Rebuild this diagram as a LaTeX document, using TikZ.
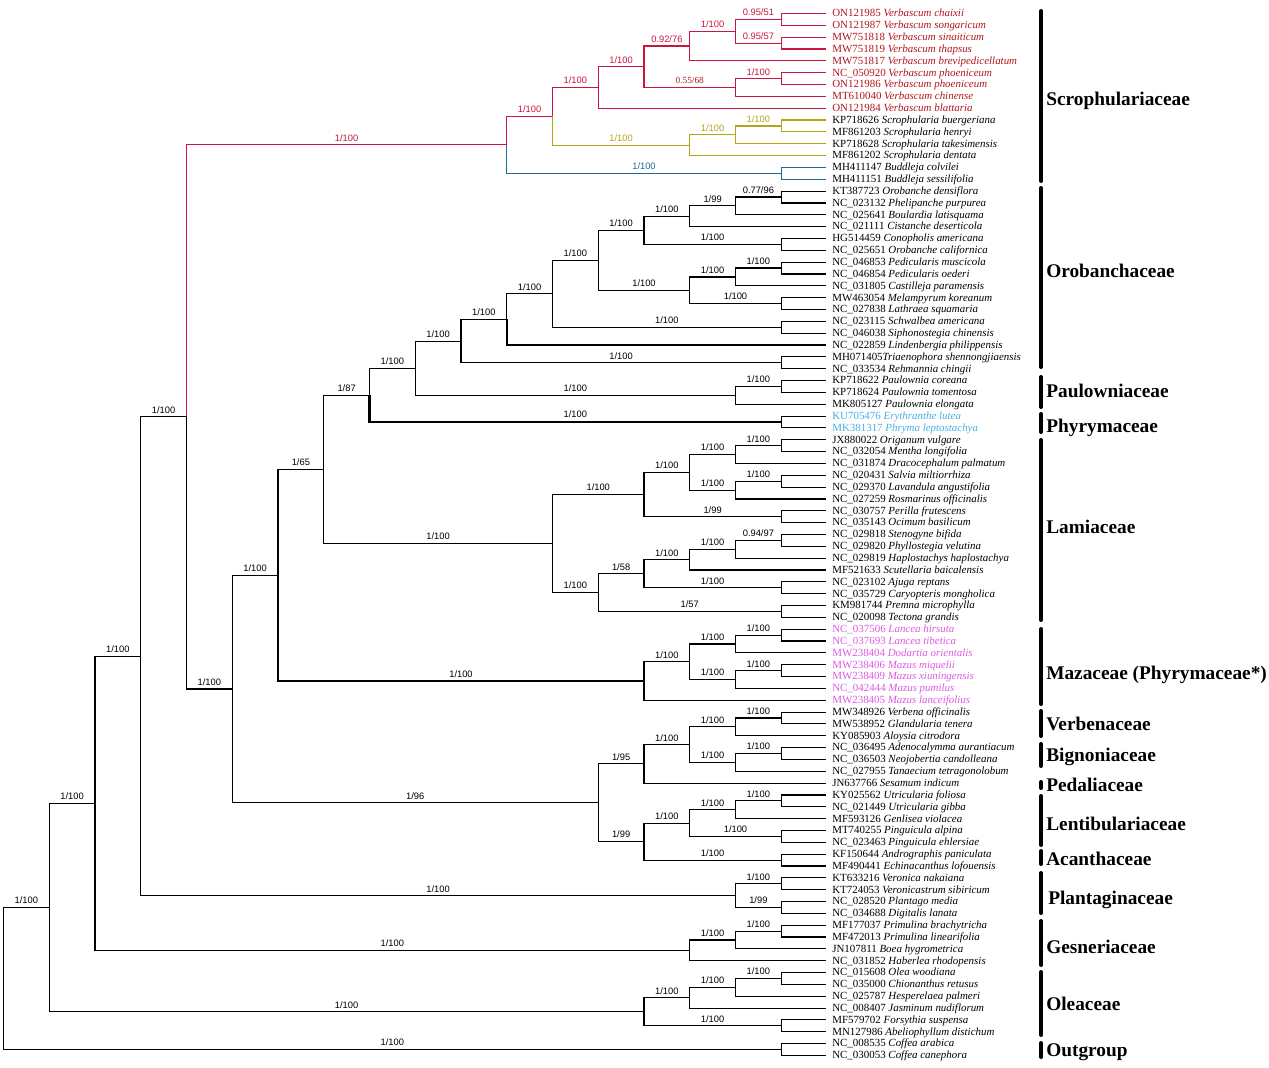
\documentclass[tikz,border=0pt]{standalone}
\usepackage{fontspec}
\setmainfont{Liberation Serif}
\newfontfamily\supf{Liberation Sans}
\usetikzlibrary{calc}
\definecolor{vred}{RGB}{200,22,62}
\definecolor{vtxt}{RGB}{175,22,28}
\definecolor{olv}{RGB}{180,165,20}
\definecolor{bud}{RGB}{30,105,150}
\definecolor{phr}{RGB}{70,175,225}
\definecolor{maz}{RGB}{220,90,225}
\newcommand\lf[4]{\node[leaf,text=#2] (L#1) at (826,{13.5+(#1-1)*11.84}) {#3 \textit{#4}};}
\newcommand\mkcl[4]{\path let \p1=(#3), \p2=(#4) in coordinate (#1) at ({(3.5+45.75*#2)*0.75pt},{0.5*(\y1+\y2)});}
\newcommand\brn[4][]{\draw[tb,#1] (#2) |- (#3) node[sup] {#4};}
\newcommand\brl[3][]{\draw[tb,#1] (#2) |- (#3);}
\begin{document}
\begin{tikzpicture}[x=0.75pt,y=-0.75pt,
 tb/.style={line width=0.85pt},
 thk/.style={line width=1.6pt},
 sup/.style={pos=0.75,above=1.6pt,inner sep=0.6pt,font=\supf\fontsize{7}{8}\selectfont},
 leaf/.style={anchor=west,inner xsep=4.5pt,inner ysep=0pt,text height=1.55ex,text depth=0.45ex,font=\fontsize{8.2}{9}\selectfont},
 fam/.style={anchor=base west,inner sep=0pt,font=\bfseries\fontsize{14.5}{16}\selectfont},
 fbar/.style={line width=3pt,line cap=round}]
\useasboundingbox (0,0) rectangle (1269,1067);
% ---------------- leaves
\lf{1}{vtxt}{ON121985}{Verbascum chaixii}
\lf{2}{vtxt}{ON121987}{Verbascum songaricum}
\lf{3}{vtxt}{MW751818}{Verbascum sinaiticum}
\lf{4}{vtxt}{MW751819}{Verbascum thapsus}
\lf{5}{vtxt}{MW751817}{Verbascum brevipedicellatum}
\lf{6}{vtxt}{NC\_050920}{Verbascum phoeniceum}
\lf{7}{vtxt}{ON121986}{Verbascum phoeniceum}
\lf{8}{vtxt}{MT610040}{Verbascum chinense}
\lf{9}{vtxt}{ON121984}{Verbascum blattaria}
\lf{10}{black}{KP718626}{Scrophularia buergeriana}
\lf{11}{black}{MF861203}{Scrophularia henryi}
\lf{12}{black}{KP718628}{Scrophularia takesimensis}
\lf{13}{black}{MF861202}{Scrophularia dentata}
\lf{14}{black}{MH411147}{Buddleja colvilei}
\lf{15}{black}{MH411151}{Buddleja sessilifolia}
\lf{16}{black}{KT387723}{Orobanche densiflora}
\lf{17}{black}{NC\_023132}{Phelipanche purpurea}
\lf{18}{black}{NC\_025641}{Boulardia latisquama}
\lf{19}{black}{NC\_021111}{Cistanche deserticola}
\lf{20}{black}{HG514459}{Conopholis americana}
\lf{21}{black}{NC\_025651}{Orobanche californica}
\lf{22}{black}{NC\_046853}{Pedicularis muscicola}
\lf{23}{black}{NC\_046854}{Pedicularis oederi}
\lf{24}{black}{NC\_031805}{Castilleja paramensis}
\lf{25}{black}{MW463054}{Melampyrum koreanum}
\lf{26}{black}{NC\_027838}{Lathraea squamaria}
\lf{27}{black}{NC\_023115}{Schwalbea americana}
\lf{28}{black}{NC\_046038}{Siphonostegia chinensis}
\lf{29}{black}{NC\_022859}{Lindenbergia philippensis}
\node[leaf] (L30) at (826,{13.5+29*11.84}) {MH071405\textit{Triaenophora shennongjiaensis}};
\lf{31}{black}{NC\_033534}{Rehmannia chingii}
\lf{32}{black}{KP718622}{Paulownia coreana}
\lf{33}{black}{KP718624}{Paulownia tomentosa}
\lf{34}{black}{MK805127}{Paulownia elongata}
\lf{35}{phr}{KU705476}{Erythranthe lutea}
\lf{36}{phr}{MK381317}{Phryma leptostachya}
\lf{37}{black}{JX880022}{Origanum vulgare}
\lf{38}{black}{NC\_032054}{Mentha longifolia}
\lf{39}{black}{NC\_031874}{Dracocephalum palmatum}
\lf{40}{black}{NC\_020431}{Salvia miltiorrhiza}
\lf{41}{black}{NC\_029370}{Lavandula angustifolia}
\lf{42}{black}{NC\_027259}{Rosmarinus officinalis}
\lf{43}{black}{NC\_030757}{Perilla frutescens}
\lf{44}{black}{NC\_035143}{Ocimum basilicum}
\lf{45}{black}{NC\_029818}{Stenogyne bifida}
\lf{46}{black}{NC\_029820}{Phyllostegia velutina}
\lf{47}{black}{NC\_029819}{Haplostachys haplostachya}
\lf{48}{black}{MF521633}{Scutellaria baicalensis}
\lf{49}{black}{NC\_023102}{Ajuga reptans}
\lf{50}{black}{NC\_035729}{Caryopteris mongholica}
\lf{51}{black}{KM981744}{Premna microphylla}
\lf{52}{black}{NC\_020098}{Tectona grandis}
\lf{53}{maz}{NC\_037506}{Lancea hirsuta}
\lf{54}{maz}{NC\_037693}{Lancea tibetica}
\lf{55}{maz}{MW238404}{Dodartia orientalis}
\lf{56}{maz}{MW238406}{Mazus miquelii}
\lf{57}{maz}{MW238409}{Mazus xiuningensis}
\lf{58}{maz}{NC\_042444}{Mazus pumilus}
\lf{59}{maz}{MW238405}{Mazus lanceifolius}
\lf{60}{black}{MW348926}{Verbena officinalis}
\lf{61}{black}{MW538952}{Glandularia tenera}
\lf{62}{black}{KY085903}{Aloysia citrodora}
\lf{63}{black}{NC\_036495}{Adenocalymma aurantiacum}
\lf{64}{black}{NC\_036503}{Neojobertia candolleana}
\lf{65}{black}{NC\_027955}{Tanaecium tetragonolobum}
\lf{66}{black}{JN637766}{Sesamum indicum}
\lf{67}{black}{KY025562}{Utricularia foliosa}
\lf{68}{black}{NC\_021449}{Utricularia gibba}
\lf{69}{black}{MF593126}{Genlisea violacea}
\lf{70}{black}{MT740255}{Pinguicula alpina}
\lf{71}{black}{NC\_023463}{Pinguicula ehlersiae}
\lf{72}{black}{KF150644}{Andrographis paniculata}
\lf{73}{black}{MF490441}{Echinacanthus lofouensis}
\lf{74}{black}{KT633216}{Veronica nakaiana}
\lf{75}{black}{KT724053}{Veronicastrum sibiricum}
\lf{76}{black}{NC\_028520}{Plantago media}
\lf{77}{black}{NC\_034688}{Digitalis lanata}
\lf{78}{black}{MF177037}{Primulina brachytricha}
\lf{79}{black}{MF472013}{Primulina linearifolia}
\lf{80}{black}{JN107811}{Boea hygrometrica}
\lf{81}{black}{NC\_031852}{Haberlea rhodopensis}
\lf{82}{black}{NC\_015608}{Olea woodiana}
\lf{83}{black}{NC\_035000}{Chionanthus retusus}
\lf{84}{black}{NC\_025787}{Hesperelaea palmeri}
\lf{85}{black}{NC\_008407}{Jasminum nudiflorum}
\lf{86}{black}{MF579702}{Forsythia suspensa}
\lf{87}{black}{MN127986}{Abeliophyllum distichum}
\lf{88}{black}{NC\_008535}{Coffea arabica}
\lf{89}{black}{NC\_030053}{Coffea canephora}
% ---------------- internal nodes (name, level, child1, child2)
\mkcl{V3a}{17}{L1}{L2}
\mkcl{V3b}{17}{L3}{L4}
\mkcl{V3}{16}{V3a}{V3b}
\mkcl{V2}{15}{V3}{L5}
\mkcl{V5a}{17}{L6}{L7}
\mkcl{V5}{16}{V5a}{L8}
\mkcl{V1}{14}{V2}{V5}
\mkcl{V}{13}{V1}{L9}
\mkcl{Sc2}{17}{L10}{L11}
\mkcl{Sc1}{16}{Sc2}{L12}
\mkcl{Sc}{15}{Sc1}{L13}
\mkcl{A}{12}{V}{Sc}
\mkcl{B}{17}{L14}{L15}
\mkcl{S}{11}{A}{B}
\mkcl{O1}{17}{L16}{L17}
\mkcl{O2}{16}{O1}{L18}
\mkcl{O3}{15}{O2}{L19}
\mkcl{O4}{17}{L20}{L21}
\mkcl{O5}{14}{O3}{O4}
\mkcl{O6}{17}{L22}{L23}
\mkcl{O7}{16}{O6}{L24}
\mkcl{O8}{17}{L25}{L26}
\mkcl{O9}{15}{O7}{O8}
\mkcl{O10}{13}{O5}{O9}
\mkcl{O11}{17}{L27}{L28}
\mkcl{O12}{12}{O10}{O11}
\mkcl{O13}{11}{O12}{L29}
\mkcl{O14}{17}{L30}{L31}
\mkcl{O15}{10}{O13}{O14}
\mkcl{P1}{17}{L32}{L33}
\mkcl{P2}{16}{P1}{L34}
\mkcl{OP}{9}{O15}{P2}
\mkcl{Ph}{17}{L35}{L36}
\mkcl{OPP}{8}{OP}{Ph}
\mkcl{La1}{17}{L37}{L38}
\mkcl{La2}{16}{La1}{L39}
\mkcl{La3}{17}{L40}{L41}
\mkcl{La4}{16}{La3}{L42}
\mkcl{La5}{15}{La2}{La4}
\mkcl{La6}{17}{L43}{L44}
\mkcl{La7}{14}{La5}{La6}
\mkcl{La8}{17}{L45}{L46}
\mkcl{La9}{16}{La8}{L47}
\mkcl{La10}{15}{La9}{L48}
\mkcl{La11}{17}{L49}{L50}
\mkcl{La12}{14}{La10}{La11}
\mkcl{La13}{17}{L51}{L52}
\mkcl{La14}{13}{La12}{La13}
\mkcl{La15}{12}{La7}{La14}
\mkcl{LO}{7}{OPP}{La15}
\mkcl{M1}{17}{L53}{L54}
\mkcl{M2}{16}{M1}{L55}
\mkcl{M3}{17}{L56}{L57}
\mkcl{M4}{16}{M3}{L58}
\mkcl{M5}{15}{M2}{M4}
\mkcl{M6}{14}{M5}{L59}
\mkcl{LOM}{6}{LO}{M6}
\mkcl{Ve1}{17}{L60}{L61}
\mkcl{Ve2}{16}{Ve1}{L62}
\mkcl{Bi1}{17}{L63}{L64}
\mkcl{Bi2}{16}{Bi1}{L65}
\mkcl{VB}{15}{Ve2}{Bi2}
\mkcl{VBS}{14}{VB}{L66}
\mkcl{Le1}{17}{L67}{L68}
\mkcl{Le2}{16}{Le1}{L69}
\mkcl{Le3}{17}{L70}{L71}
\mkcl{Le4}{15}{Le2}{Le3}
\mkcl{Ac}{17}{L72}{L73}
\mkcl{LA}{14}{Le4}{Ac}
\mkcl{VL}{13}{VBS}{LA}
\mkcl{N5}{5}{LOM}{VL}
\mkcl{N4}{4}{S}{N5}
\mkcl{Pl1}{17}{L74}{L75}
\mkcl{Pl2}{17}{L76}{L77}
\mkcl{Pl}{16}{Pl1}{Pl2}
\mkcl{N3}{3}{N4}{Pl}
\mkcl{G1}{17}{L78}{L79}
\mkcl{G2}{16}{G1}{L80}
\mkcl{G3}{15}{G2}{L81}
\mkcl{N2}{2}{N3}{G3}
\mkcl{Ol1}{17}{L82}{L83}
\mkcl{Ol2}{16}{Ol1}{L84}
\mkcl{Ol3}{15}{Ol2}{L85}
\mkcl{Ol4}{17}{L86}{L87}
\mkcl{Ol5}{14}{Ol3}{Ol4}
\mkcl{N1}{1}{N2}{Ol5}
\mkcl{Out}{17}{L88}{L89}
\mkcl{Root}{0}{N1}{Out}
% ---------------- Scrophulariaceae
\brn[vred]{N4}{S}{1/100}
\brn[vred]{S}{A}{1/100}
\brn[bud]{S}{B}{1/100}
\brl[bud]{B}{L14}\brl[bud]{B}{L15}
\brn[vred]{A}{V}{1/100}
\brn[olv]{A}{Sc}{1/100}
\brn[vred]{V}{V1}{1/100}
\brl[vred]{V}{L9}
\brn[vred]{V1}{V2}{0.92/76}
\draw[tb,vred] (V1) |- (V5) node[sup,text=vtxt,font=\fontsize{7}{8}\selectfont] {0.55/68};
\brn[vred]{V2}{V3}{1/100}
\brl[vred]{V2}{L5}
\brn[vred]{V3}{V3a}{0.95/51}
\brn[vred]{V3}{V3b}{0.95/57}
\brl[vred]{V3a}{L1}\brl[vred]{V3a}{L2}
\brl[vred]{V3b}{L3}\brl[vred]{V3b}{L4}
\brn[vred]{V5}{V5a}{1/100}
\brl[vred]{V5}{L8}
\brl[vred]{V5a}{L6}\brl[vred]{V5a}{L7}
\brn[olv]{Sc}{Sc1}{1/100}
\brl[olv]{Sc}{L13}
\brn[olv]{Sc1}{Sc2}{1/100}
\brl[olv]{Sc1}{L12}
\brl[olv]{Sc2}{L10}\brl[olv]{Sc2}{L11}
% ---------------- Orobanchaceae, Paulowniaceae, Phrymaceae
\brn{LO}{OPP}{1/87}
\brn{OPP}{OP}{1/100}
\brn[thk]{OPP}{Ph}{1/100}
\brl{Ph}{L35}\brl{Ph}{L36}
\brn{OP}{O15}{1/100}
\brn{OP}{P2}{1/100}
\brn{P2}{P1}{1/100}
\brl{P2}{L34}\brl{P1}{L32}\brl{P1}{L33}
\brn{O15}{O13}{1/100}
\brn{O15}{O14}{1/100}
\brl{O14}{L30}\brl{O14}{L31}
\brn{O13}{O12}{1/100}
\brl[thk]{O13}{L29}
\brn{O12}{O10}{1/100}
\brn{O12}{O11}{1/100}
\brl{O11}{L27}\brl{O11}{L28}
\brn{O10}{O5}{1/100}
\brn{O10}{O9}{1/100}
\brn{O5}{O3}{1/100}
\brn{O5}{O4}{1/100}
\brl{O4}{L20}\brl{O4}{L21}
\brn{O3}{O2}{1/99}
\brl{O3}{L19}
\brn{O2}{O1}{0.77/96}
\brl{O2}{L18}
\brl{O1}{L16}\brl{O1}{L17}
\brn{O9}{O7}{1/100}
\brn{O9}{O8}{1/100}
\brl{O8}{L25}\brl{O8}{L26}
\brn{O7}{O6}{1/100}
\brl{O7}{L24}
\brl{O6}{L22}\brl{O6}{L23}
% ---------------- Lamiaceae
\brn{LO}{La15}{1/100}
\brn{La15}{La7}{1/100}
\brn{La15}{La14}{1/100}
\brn{La7}{La5}{1/100}
\brn{La7}{La6}{1/99}
\brl{La6}{L43}\brl{La6}{L44}
\brn{La5}{La2}{1/100}
\brn{La5}{La4}{1/100}
\brn{La2}{La1}{1/100}
\brl{La2}{L39}\brl{La1}{L37}\brl{La1}{L38}
\brn{La4}{La3}{1/100}
\brl{La4}{L42}\brl{La3}{L40}\brl{La3}{L41}
\brn{La14}{La12}{1/58}
\brn{La14}{La13}{1/57}
\brl{La13}{L51}\brl{La13}{L52}
\brn{La12}{La10}{1/100}
\brn{La12}{La11}{1/100}
\brl{La11}{L49}\brl{La11}{L50}
\brn{La10}{La9}{1/100}
\brl{La10}{L48}
\brn{La9}{La8}{0.94/97}
\brl{La9}{L47}\brl{La8}{L45}\brl{La8}{L46}
% ---------------- Mazaceae
\brn{LOM}{LO}{1/65}
\brn{LOM}{M6}{1/100}
\brn{M6}{M5}{1/100}
\brl{M6}{L59}
\brn{M5}{M2}{1/100}
\brn{M5}{M4}{1/100}
\brn{M2}{M1}{1/100}
\brl{M2}{L55}\brl{M1}{L53}\brl{M1}{L54}
\brn{M4}{M3}{1/100}
\brl{M4}{L58}\brl{M3}{L56}\brl{M3}{L57}
% ---------------- Verbenaceae ... Acanthaceae
\brn{N5}{LOM}{1/100}
\brn{N5}{VL}{1/96}
\brn{VL}{VBS}{1/95}
\brn{VL}{LA}{1/99}
\brn{VBS}{VB}{1/100}
\brl{VBS}{L66}
\brn{VB}{Ve2}{1/100}
\brn{VB}{Bi2}{1/100}
\brn{Ve2}{Ve1}{1/100}
\brl{Ve2}{L62}\brl{Ve1}{L60}\brl{Ve1}{L61}
\brn{Bi2}{Bi1}{1/100}
\brl{Bi2}{L65}\brl{Bi1}{L63}\brl{Bi1}{L64}
\brn{LA}{Le4}{1/100}
\brn{LA}{Ac}{1/100}
\brl{Ac}{L72}\brl{Ac}{L73}
\brn{Le4}{Le2}{1/100}
\brn{Le4}{Le3}{1/100}
\brl{Le3}{L70}\brl{Le3}{L71}
\brn{Le2}{Le1}{1/100}
\brl{Le2}{L69}\brl{Le1}{L67}\brl{Le1}{L68}
% ---------------- backbone, Plantaginaceae, Gesneriaceae, Oleaceae, outgroup
\brn{N4}{N5}{1/100}
\brn{N3}{N4}{1/100}
\brn{N3}{Pl}{1/100}
\brn{Pl}{Pl1}{1/100}
\brn{Pl}{Pl2}{1/99}
\brl{Pl1}{L74}\brl{Pl1}{L75}\brl{Pl2}{L76}\brl{Pl2}{L77}
\brn{N2}{N3}{1/100}
\brn{N2}{G3}{1/100}
\brn{G3}{G2}{1/100}
\brl{G3}{L81}
\brn{G2}{G1}{1/100}
\brl{G2}{L80}\brl{G1}{L78}\brl{G1}{L79}
\brn{N1}{N2}{1/100}
\brn{N1}{Ol5}{1/100}
\brn{Ol5}{Ol3}{1/100}
\brn{Ol5}{Ol4}{1/100}
\brl{Ol4}{L86}\brl{Ol4}{L87}
\brn{Ol3}{Ol2}{1/100}
\brl{Ol3}{L85}
\brn{Ol2}{Ol1}{1/100}
\brl{Ol2}{L84}\brl{Ol1}{L82}\brl{Ol1}{L83}
\brn{Root}{N1}{1/100}
\brn{Root}{Out}{1/100}
\brl{Out}{L88}\brl{Out}{L89}
% ---------------- family bars and names
\draw[fbar] (1041,11) -- (1041,181);
\draw[fbar] (1041,188) -- (1041,367);
\draw[fbar] (1041,377) -- (1041,407);
\draw[fbar] (1041,414) -- (1041,432);
\draw[fbar] (1041,440) -- (1041,620);
\draw[fbar] (1041,629) -- (1041,704);
\draw[fbar] (1041,711) -- (1041,736);
\draw[fbar] (1041,744) -- (1041,766);
\draw[fbar] (1041,782) -- (1041,788);
\draw[fbar] (1041,796) -- (1041,845);
\draw[fbar] (1041,851) -- (1041,864);
\draw[fbar] (1041,873) -- (1041,913);
\draw[fbar] (1041,921) -- (1041,965);
\draw[fbar] (1041,972) -- (1041,1035);
\draw[fbar] (1041,1043) -- (1041,1057);
\node[fam] (F1) at (1046,105.5) {Scrophulariaceae};
\node[fam] (F2) at (1046,277.5) {Orobanchaceae};
\node[fam] (F3) at (1046,397.5) {Paulowniaceae};
\node[fam] (F4) at (1046,432.5) {Phyrymaceae};
\node[fam] (F5) at (1046,533.5) {Lamiaceae};
\node[fam] (F6) at (1046,679.5) {Mazaceae (Phyrymaceae*)};
\node[fam] (F7) at (1046,730.5) {Verbenaceae};
\node[fam] (F8) at (1046,761.5) {Bignoniaceae};
\node[fam] (F9) at (1046,791.5) {Pedaliaceae};
\node[fam] (F10) at (1046,830.5) {Lentibulariaceae};
\node[fam] (F11) at (1046,865.5) {Acanthaceae};
\node[fam] (F12) at (1048,904.5) {Plantaginaceae};
\node[fam] (F13) at (1046,953.5) {Gesneriaceae};
\node[fam] (F14) at (1046,1010.5) {Oleaceae};
\node[fam] (F15) at (1046,1056.5) {Outgroup};
\end{tikzpicture}
\end{document}
